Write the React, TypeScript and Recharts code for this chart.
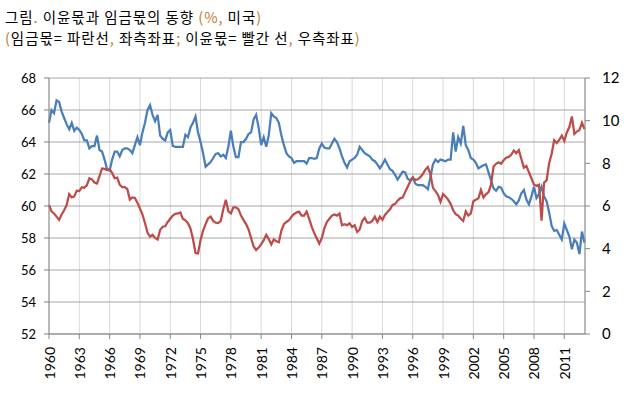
import { CartesianGrid, Line, LineChart, XAxis, YAxis } from 'recharts';

// 임금몫 (wage share, %), quarterly from 1960 Q1, left axis
const wageShare = [
  65.2, 66.0, 65.8, 66.6, 66.5, 65.9, 65.5, 65.1, 64.8, 65.2, 64.7, 64.9,
  64.75, 64.5, 64.1, 64.1, 63.6, 63.75, 63.75, 64.4, 63.5, 63.4, 62.9, 62.3,
  62.2, 62.9, 63.4, 63.4, 63.1, 63.5, 63.6, 63.6, 63.5, 63.3, 63.8, 64.3,
  63.8, 64.6, 65.2, 66.0, 66.3, 65.7, 65.3, 65.7, 64.4, 64.2, 64.1, 64.6,
  64.75, 63.75, 63.7, 63.7, 63.7, 63.7, 64.45, 64.3, 64.9, 65.2, 65.6, 64.6,
  64.0, 63.3, 62.45, 62.6, 62.75, 63.0, 63.25, 63.3, 63.1, 63.2, 63.0, 63.7,
  64.7, 63.7, 63.05, 63.05, 64.0, 64.0, 64.2, 64.5, 64.6, 65.4, 65.7, 64.9,
  63.8, 64.3, 63.7, 64.4, 65.8, 65.6, 65.5, 65.2, 64.4, 63.8, 63.3, 63.1,
  63.0, 62.7, 62.8, 62.8, 62.8, 62.8, 62.65, 63.0, 63.0, 62.95, 63.0, 63.6,
  63.9, 63.65, 63.6, 63.6, 63.9, 64.2, 64.0, 63.6, 63.1, 62.7, 62.4, 62.8,
  62.9, 63.0, 63.2, 63.7, 63.5, 63.3, 63.2, 63.1, 62.9, 62.8, 62.6, 62.35,
  62.6, 62.9, 62.6, 62.3, 62.2, 61.95, 61.65, 61.9, 62.15, 62.1, 61.7, 61.6,
  61.8, 61.4, 61.3, 61.3, 61.3, 61.2, 61.05, 61.8, 62.6, 62.9, 62.75, 62.9,
  62.85, 62.8, 62.9, 62.9, 64.6, 63.4, 64.3, 63.9, 65.0, 63.8, 63.5, 63.0,
  62.9, 62.7, 62.35, 62.45, 62.55, 62.6, 62.1, 61.6, 61.1, 60.95, 61.2, 61.15,
  60.8, 60.6, 60.55, 60.45, 60.3, 60.1, 60.35, 60.8, 61.0, 60.4, 60.1, 60.6,
  61.2, 60.5, 60.75, 61.2, 60.6, 60.3, 59.6, 58.75, 58.45, 58.5, 58.2, 57.9,
  58.9, 58.5, 58.1, 57.3, 57.9, 57.7, 57.0, 58.4, 57.7,
];

// 이윤몫 (profit share, %), quarterly from 1960 Q1, right axis
const profitShare = [
  6.05, 5.75, 5.65, 5.5, 5.35, 5.6, 5.8, 6.05, 6.56, 6.4, 6.45, 6.72,
  6.7, 6.88, 6.85, 6.98, 7.3, 7.25, 7.1, 7.05, 7.4, 7.76, 7.74, 7.69,
  7.72, 7.55, 7.3, 7.33, 7.0, 6.88, 6.88, 6.8, 6.3, 6.4, 6.38, 6.15,
  5.89, 5.6, 5.2, 4.75, 4.56, 4.65, 4.5, 4.43, 4.88, 5.03, 5.05, 5.25,
  5.4, 5.55, 5.63, 5.65, 5.7, 5.4, 5.33, 5.2, 4.95, 4.45, 3.8, 3.78,
  4.41, 4.85, 5.15, 5.42, 5.5, 5.3, 5.22, 5.2, 5.3, 5.85, 6.29, 5.75,
  5.65, 5.94, 5.94, 5.85, 5.55, 5.35, 5.15, 4.9, 4.5, 4.1, 3.94, 4.05,
  4.2, 4.4, 4.65, 4.45, 4.2, 4.43, 4.35, 4.3, 4.85, 5.15, 5.25, 5.33,
  5.5, 5.63, 5.69, 5.74, 5.55, 5.55, 5.74, 5.4, 5.03, 4.73, 4.49, 4.24,
  4.49, 4.95, 5.25, 5.4, 5.55, 5.6, 5.55, 5.65, 5.1, 5.15, 5.1, 5.19,
  5.02, 5.1, 4.78, 4.9, 5.3, 5.45, 5.22, 5.22, 5.3, 5.5, 5.25, 5.5,
  5.35, 5.58, 5.72, 5.84, 6.05, 6.09, 6.25, 6.36, 6.4, 6.65, 6.9, 7.15,
  7.32, 7.22, 7.25, 7.35, 7.5, 7.7, 7.82, 7.5, 6.85, 6.7, 6.52, 6.2,
  6.56, 6.45, 6.3, 6.1, 5.8, 5.62, 5.55, 5.4, 5.3, 5.75, 5.55, 5.65,
  6.22, 6.29, 6.36, 6.75, 6.4, 6.55, 6.65, 7.0, 7.85, 7.98, 8.05, 7.98,
  8.15, 8.26, 8.3, 8.4, 8.6, 8.47, 8.62, 8.2, 7.8, 7.88, 7.58, 7.3,
  7.0, 6.95, 7.0, 5.31, 7.1, 7.2, 8.0, 8.45, 9.08, 8.95, 9.1, 9.3,
  9.05, 9.45, 9.7, 10.2, 9.38, 9.49, 9.56, 9.9, 9.6,
];

const startYear = 1960;
const yearTicks = [
  1960, 1963, 1966, 1969, 1972, 1975, 1978, 1981, 1984, 1987, 1990, 1993,
  1996, 1999, 2002, 2005, 2008, 2011,
];
const leftTicks = [52, 54, 56, 58, 60, 62, 64, 66, 68];
const rightTicks = [0, 2, 4, 6, 8, 10, 12];

const data = wageShare.map((wage, i) => ({
  t: startYear + i / 4,
  wage,
  profit: profitShare[i],
}));

const axisColor = '#868686';
const accent = '#C0782A';
const numFont = 'Lato, "Open Sans", sans-serif';

const titleLine = {
  position: 'absolute' as const,
  left: 5,
  fontFamily: '"Noto Sans CJK KR", sans-serif',
  fontSize: 14.5,
  lineHeight: '21px',
  letterSpacing: '0.95px',
  color: '#000',
  whiteSpace: 'nowrap' as const,
};

function YearTick({ x, y, payload }: { x: number; y: number; payload: { value: number } }) {
  return (
    <text
      x={x}
      y={y}
      transform={`rotate(-90, ${x}, ${y})`}
      textAnchor="end"
      dominantBaseline="central"
      fontSize={14}
      fontFamily={numFont}
      fill="#000"
    >
      {payload.value}
    </text>
  );
}

export default function App() {
  return (
    <div
      style={{
        position: 'absolute',
        left: 0,
        top: 0,
        width: 637,
        height: 397,
        background: '#fff',
      }}
    >
      <div style={{ ...titleLine, top: 6 }}>
        그림<span style={{ color: accent }}>.</span> 이윤몫과 임금몫의 동향{' '}
        <span style={{ color: accent }}>(%,</span> 미국
        <span style={{ color: accent }}>)</span>
      </div>
      <div style={{ ...titleLine, top: 27 }}>
        <span style={{ color: accent }}>(</span>임금몫= 파란선
        <span style={{ color: accent }}>,</span> 좌측좌표
        <span style={{ color: accent }}>;</span> 이윤몫= 빨간 선
        <span style={{ color: accent }}>,</span> 우측좌표
        <span style={{ color: accent }}>)</span>
      </div>
      <LineChart
        width={637}
        height={397}
        data={data}
        margin={{ top: 78, right: 0, bottom: 13, left: 0 }}
        style={{ position: 'absolute', left: 0, top: 0 }}
      >
        <CartesianGrid
          vertical
          horizontal={false}
          stroke="#D9D9D9"
          yAxisId="left"
        />
        <CartesianGrid
          vertical={false}
          horizontal
          stroke="#A6A6A6"
          yAxisId="left"
        />
        <XAxis
          dataKey="t"
          type="number"
          domain={[1960, 2013.05]}
          ticks={yearTicks}
          interval={0}
          height={50}
          tickSize={5}
          tickMargin={8}
          axisLine={{ stroke: axisColor }}
          tickLine={{ stroke: axisColor }}
          tick={YearTick}
        />
        <YAxis
          yAxisId="left"
          domain={[52, 68]}
          ticks={leftTicks}
          interval={0}
          width={49}
          tickSize={5}
          tickMargin={8}
          axisLine={{ stroke: axisColor }}
          tickLine={{ stroke: axisColor }}
          tick={{ fontSize: 13, fontFamily: numFont, fill: '#000' }}
        />
        <YAxis
          yAxisId="right"
          orientation="right"
          domain={[0, 12]}
          ticks={rightTicks}
          interval={0}
          width={52}
          tickSize={5}
          tickMargin={12}
          axisLine={{ stroke: axisColor }}
          tickLine={{ stroke: axisColor }}
          tick={{ fontSize: 15, fontFamily: numFont, fill: '#000', textAnchor: 'start' }}
        />
        <Line
          yAxisId="left"
          dataKey="wage"
          stroke="#4A7EBB"
          strokeWidth={2.25}
          dot={false}
          isAnimationActive={false}
        />
        <Line
          yAxisId="right"
          dataKey="profit"
          stroke="#BE4B48"
          strokeWidth={2.25}
          dot={false}
          isAnimationActive={false}
        />
      </LineChart>
    </div>
  );
}
